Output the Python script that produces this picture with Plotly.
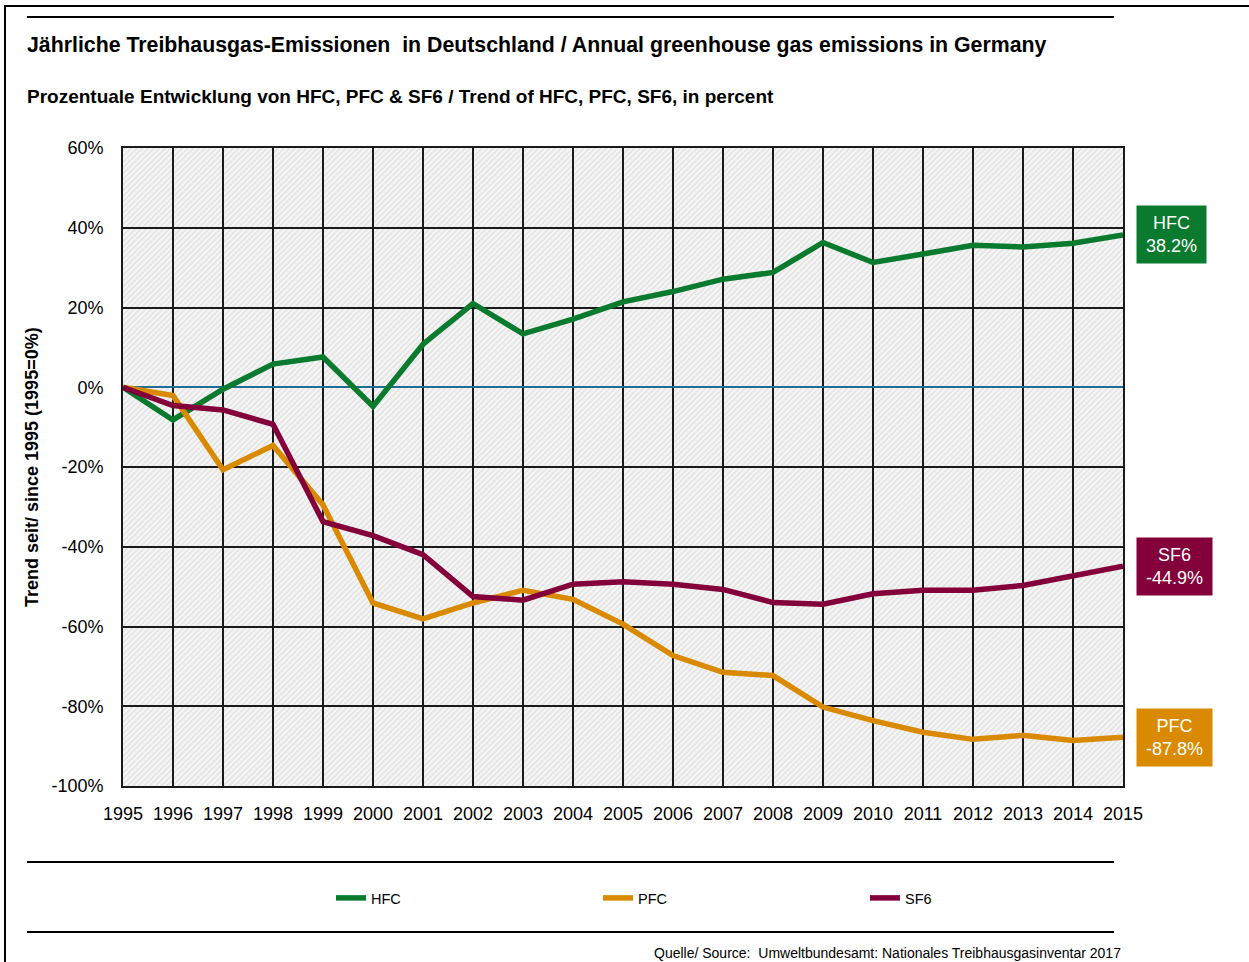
import base64
import plotly.graph_objects as go

# ---- data ----
years = list(range(1995, 2016))
hfc = [0, -8.2, -0.5, 5.8, 7.6, -4.8, 10.8, 21.0, 13.4, 17.1, 21.4, 24.0, 27.1, 28.8,
       36.3, 31.3, 33.4, 35.6, 35.2, 36.1, 38.2]
pfc = [0, -2.1, -20.7, -14.6, -29.5, -54.1, -58.1, -54.1, -50.9, -53.2, -59.4, -67.3,
       -71.5, -72.3, -80.2, -83.6, -86.5, -88.3, -87.3, -88.6, -87.8]
sf6 = [0, -4.6, -5.7, -9.3, -33.7, -37.2, -42.0, -52.5, -53.4, -49.4, -48.8, -49.4,
       -50.7, -54.0, -54.4, -51.8, -50.9, -50.9, -49.7, -47.3, -44.9]
series_names = ["HFC", "PFC", "SF6"]
series_colors = ["#0A7A2E", "#D98A00", "#83003A"]
y_tickvals = [-100, -80, -60, -40, -20, 0, 20, 40, 60]
y_ticktext = ["-100%", "-80%", "-60%", "-40%", "-20%", "0%", "20%", "40%", "60%"]

title = "Jährliche Treibhausgas-Emissionen  in Deutschland / Annual greenhouse gas emissions in Germany"
subtitle = "Prozentuale Entwicklung von HFC, PFC & SF6 / Trend of HFC, PFC, SF6, in percent"
y_title = "Trend seit/ since 1995 (1995=0%)"
source = "Quelle/ Source:  Umweltbundesamt: Nationales Treibhausgasinventar 2017"

FONT = "Liberation Sans, Arial, sans-serif"

fig = go.Figure()
for name, vals, col in zip(series_names, [hfc, pfc, sf6], series_colors):
    fig.add_trace(go.Scatter(x=years, y=vals, mode="lines", name=name,
                             line=dict(color=col, width=5.5)))
    last = vals[-1]
    fig.add_annotation(x=years[-1], y=last, xref="x", yref="y",
                       text=f"{name}<br>{last:.1f}%", showarrow=False,
                       xanchor="left", yanchor="middle", xshift=13,
                       font=dict(family=FONT, size=18, color="white"),
                       bgcolor=col, width=65 if name == "HFC" else 71, height=53,
                       borderpad=2, align="center")

# hatched plot background
svg = ("<svg xmlns='http://www.w3.org/2000/svg' width='1000' height='638'>"
       "<defs><pattern id='h' width='4' height='4' patternUnits='userSpaceOnUse' "
       "patternTransform='rotate(45)'><rect width='4' height='4' fill='#f6f6f6'/>"
       "<line x1='2' y1='0' x2='2' y2='4' stroke='#dedede' stroke-width='1.3'/></pattern></defs>"
       "<rect width='1000' height='638' fill='url(#h)'/></svg>")
img = "data:image/svg+xml;base64," + base64.b64encode(svg.encode()).decode()
fig.add_layout_image(source=img, xref="paper", yref="paper", x=0, y=1, sizex=1, sizey=1,
                     sizing="stretch", xanchor="left", yanchor="top", layer="below")

# texts
fig.add_annotation(text=f"<b>{title}</b>", xref="paper", yref="paper", x=-0.098, y=1.1614,
                   xanchor="left", yanchor="middle", showarrow=False,
                   font=dict(family=FONT, size=21.3, color="black"))
fig.add_annotation(text=f"<b>{subtitle}</b>", xref="paper", yref="paper", x=-0.098, y=1.0815,
                   xanchor="left", yanchor="middle", showarrow=False,
                   font=dict(family=FONT, size=19, color="black"))
fig.add_annotation(text=f"<b>{y_title}</b>", xref="paper", yref="paper", x=-0.091, y=0.5,
                   xanchor="center", yanchor="middle", showarrow=False, textangle=-90,
                   font=dict(family=FONT, size=18, color="black"))
fig.add_annotation(text=source, xref="paper", yref="paper", x=1.0, y=-0.262,
                   xanchor="right", yanchor="middle", showarrow=False,
                   font=dict(family=FONT, size=14, color="black"))

# rules and frame
for yy in [1.2053, -0.1191, -0.2288]:
    fig.add_shape(type="line", xref="paper", yref="paper", x0=-0.096, x1=0.991, y0=yy, y1=yy,
                  line=dict(color="black", width=2))
fig.add_shape(type="rect", xref="paper", yref="paper", x0=-0.118, x1=1.2, y0=-0.4, y1=1.2226,
              line=dict(color="black", width=2), fillcolor="rgba(0,0,0,0)")

fig.update_layout(
    width=1249, height=962,
    margin=dict(l=123, r=126, t=148, b=176),
    paper_bgcolor="white", plot_bgcolor="rgba(0,0,0,0)",
    font=dict(family=FONT, size=18, color="black"),
    showlegend=True,
    legend=dict(orientation="h", x=0.208, y=-0.1755, xanchor="left", yanchor="middle",
                entrywidth=222, font=dict(family=FONT, size=14.5, color="black"),
                bgcolor="rgba(0,0,0,0)"),
)
fig.update_xaxes(range=[1995, 2015], tickmode="array", tickvals=years,
                 ticktext=[str(y) for y in years], showgrid=True, gridcolor="#1a1a1a",
                 gridwidth=1.6, showline=True, mirror=True, linecolor="#1a1a1a", linewidth=1.6,
                 ticks="", tickfont=dict(size=18), zeroline=False, ticklabelstandoff=11)
fig.update_yaxes(range=[-100, 60], tickmode="array", tickvals=y_tickvals, ticktext=y_ticktext,
                 showgrid=True, gridcolor="#1a1a1a", gridwidth=1.6, showline=True, mirror=True,
                 linecolor="#1a1a1a", linewidth=1.6, ticks="", tickfont=dict(size=18),
                 zeroline=True, zerolinecolor="#1F6E96", zerolinewidth=1.6, ticklabelstandoff=14)

fig.write_html("out.html", config={"displayModeBar": False},
               post_script="document.body.style.margin='0';")
